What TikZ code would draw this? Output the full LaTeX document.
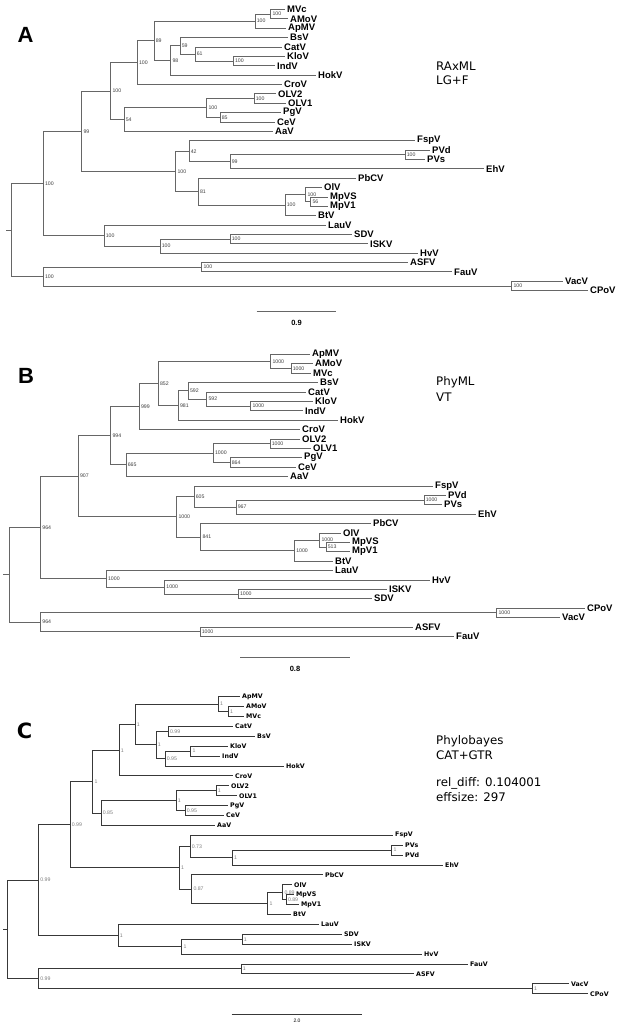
\documentclass[tikz,border=0pt]{standalone}
\usepackage{fontspec}
\newfontfamily\lsans{Liberation Sans}
\newfontfamily\dvs{DejaVu Sans}
\usetikzlibrary{calc}
\definecolor{brAB}{gray}{0.40}
\definecolor{brCC}{gray}{0.22}
\definecolor{supAB}{gray}{0.25}
\definecolor{supCC}{gray}{0.50}
\tikzset{
  brA/.style={draw=brAB, line width=0.8pt},
  brC/.style={draw=brCC, line width=1pt},
  supA/.style={anchor=west, xshift=1.2pt, inner sep=0.4pt, text=supAB, font=\lsans\fontsize{5.2}{5.2}\selectfont},
  supC/.style={anchor=west, xshift=1.2pt, inner sep=0.4pt, text=supCC, font=\lsans\fontsize{5.2}{5.2}\selectfont},
  lfA/.style={anchor=west, xshift=2pt, inner sep=0pt, font=\lsans\bfseries\fontsize{9.5}{9.5}\selectfont},
  lfC/.style={anchor=west, xshift=2pt, inner sep=0pt, font=\dvs\bfseries\fontsize{6.3}{6.3}\selectfont},
  panel/.style={inner sep=0pt, font=\lsans\bfseries\fontsize{22}{22}\selectfont},
  panelC/.style={inner sep=0pt, font=\dvs\bfseries\fontsize{21}{21}\selectfont},
  side/.style={anchor=west, inner sep=0pt, font=\dvs\fontsize{11.8}{12}\selectfont},
  sbA/.style={inner sep=0pt, font=\lsans\bfseries\fontsize{7.5}{7.5}\selectfont},
  sbC/.style={inner sep=0pt, font=\lsans\fontsize{5}{5}\selectfont},
}
\newcommand\inode[5]{%
  \path let \p1=($(#3)!0.5!(#4)$) in (#2pt,\y1) coordinate (#1);
  \draw[br] (#1) |- (#3);
  \draw[br] (#1) |- (#4);
  \node[sup] (S#1) at (#1) {#5};}
\newcommand\rnode[4]{%
  \path let \p1=($(#3)!0.5!(#4)$) in (#2pt,\y1) coordinate (#1);
  \draw[br] (#1) |- (#3);
  \draw[br] (#1) |- (#4);}
\begin{document}
\begin{tikzpicture}[x=1pt,y=-1pt]
\useasboundingbox (0,0) rectangle (617,1027);
\fill[white] (0,0) rectangle (617,1027);

% ================= A =================
\begin{scope}[br/.style={brA}, sup/.style={supA}, lf/.style={lfA}]
\foreach \n/\x/\i in {MVc/285/0, AMoV/288/1, ApMV/286/2, BsV/288/3, CatV/282/4, KloV/285/5, IndV/275/6, HokV/316/7, CroV/282/8, OLV2/276/9, OLV1/286/10, PgV/281/11, CeV/275/12, AaV/273/13, FspV/415/14, PVd/430/15, PVs/425/16, EhV/484/17, PbCV/356/18, OlV/322/19, MpVS/328/20, MpV1/328/21, BtV/316/22, LauV/326/23, SDV/352/24, ISKV/368/25, HvV/418/26, ASFV/408/27, FauV/452/28, VacV/563/29, CPoV/588/30}
{\coordinate (a\n) at (\x,{9.5+9.37*\i}); \node[lf] (Ta\n) at (a\n) {\n};}
\inode{aMA}{270.7}{aMVc}{aAMoV}{100}
\inode{aMB}{255}{aMA}{aApMV}{100}
\inode{aKI}{233.3}{aKloV}{aIndV}{100}
\inode{aSixtyOne}{195}{aCatV}{aKI}{61}
\inode{aFiftyNine}{180}{aBsV}{aSixtyOne}{59}
\inode{aNinetyEight}{170.7}{aFiftyNine}{aHokV}{98}
\inode{aEightyNine}{154}{aMB}{aNinetyEight}{89}
\inode{aCH}{137.3}{aEightyNine}{aCroV}{100}
\inode{aOL}{254}{aOLV2}{aOLV1}{100}
\inode{aPC}{220}{aPgV}{aCeV}{85}
\inode{aOP}{206.7}{aOL}{aPC}{100}
\inode{aFiftyFour}{124}{aOP}{aAaV}{54}
\inode{aUH}{110.7}{aCH}{aFiftyFour}{100}
\inode{aPV}{405}{aPVd}{aPVs}{100}
\inode{aNinetyNine}{230}{aPV}{aEhV}{99}
\inode{aFortyTwo}{189}{aFspV}{aNinetyNine}{42}
\inode{aMS}{310.7}{aMpVS}{aMpV1}{56}
\inode{aOM}{305.7}{aOlV}{aMS}{100}
\inode{aOB}{285}{aOM}{aBtV}{100}
\inode{aEightyOne}{198.3}{aPbCV}{aOB}{81}
\inode{aFH}{175.7}{aFortyTwo}{aEightyOne}{100}
\inode{aNN}{81.7}{aUH}{aFH}{99}
\inode{aSI}{230}{aSDV}{aISKV}{100}
\inode{aSH}{160}{aSI}{aHvV}{100}
\inode{aL}{104}{aLauV}{aSH}{100}
\inode{aRone}{43.3}{aNN}{aL}{100}
\inode{aAF}{201.7}{aASFV}{aFauV}{100}
\inode{aVC}{511.7}{aVacV}{aCPoV}{100}
\inode{aRtwo}{43.3}{aAF}{aVC}{100}
\rnode{aRoot}{11.7}{aRone}{aRtwo}
\coordinate (aStub) at ($(aRoot)+(-5.7,0)$);
\draw[br] (aRoot) -- (aStub);
\coordinate (aSbL) at (256.7,311);
\coordinate (aSbR) at (336,311);
\draw[br] (aSbL) -- (aSbR);
\node[sbA] (aSbT) at (296.5,322.5) {0.9};
\node[panel] (LA) at (25.5,35) {A};
\node[side] (aTx1) at (436,66) {RAxML};
\node[side] (aTx2) at (436,80.5) {LG+F};
\end{scope}

% ================= B =================
\begin{scope}[br/.style={brA}, sup/.style={supA}, lf/.style={lfA}]
\foreach \n/\x/\i in {ApMV/310/0, AMoV/313/1, MVc/311/2, BsV/318/3, CatV/306/4, KloV/313/5, IndV/303/6, HokV/338/7, CroV/300/8, OLV2/300/9, OLV1/311/10, PgV/302/11, CeV/296/12, AaV/288/13, FspV/433/14, PVd/446/15, PVs/442/16, EhV/476/17, PbCV/371/18, OlV/341/19, MpVS/350/20, MpV1/350/21, BtV/333/22, LauV/333/23, HvV/430/24, ISKV/387/25, SDV/372/26, CPoV/585/27, VacV/560/28, ASFV/413/29, FauV/454/30}
{\coordinate (b\n) at (\x,{354.3+9.4*\i}); \node[lf] (Tb\n) at (b\n) {\n};}
\inode{bAM}{291}{bAMoV}{bMVc}{1000}
\inode{bAp}{270.7}{bApMV}{bAM}{1000}
\inode{bKI}{250.7}{bKloV}{bIndV}{1000}
\inode{bFNTb}{206.7}{bCatV}{bKI}{592}
\inode{bFNT}{188.3}{bBsV}{bFNTb}{592}
\inode{bNEO}{178.3}{bFNT}{bHokV}{981}
\inode{bEFT}{158.3}{bAp}{bNEO}{852}
\inode{bNNN}{139.3}{bEFT}{bCroV}{999}
\inode{bOL}{270}{bOLV2}{bOLV1}{1000}
\inode{bPC}{230}{bPgV}{bCeV}{864}
\inode{bOP}{213.3}{bOL}{bPC}{1000}
\inode{bSSF}{126}{bOP}{bAaV}{665}
\inode{bNNF}{110.7}{bNNN}{bSSF}{994}
\inode{bPV}{424}{bPVd}{bPVs}{1000}
\inode{bNSS}{236}{bPV}{bEhV}{967}
\inode{bSZF}{194}{bFspV}{bNSS}{605}
\inode{bMS}{326}{bMpVS}{bMpV1}{513}
\inode{bOM}{319.7}{bOlV}{bMS}{1000}
\inode{bOB}{294.5}{bOM}{bBtV}{1000}
\inode{bEFO}{200.8}{bPbCV}{bOB}{841}
\inode{bF}{176.7}{bSZF}{bEFO}{1000}
\inode{bNZS}{78.3}{bNNF}{bF}{907}
\inode{bIS}{238.2}{bISKV}{bSDV}{1000}
\inode{bHI}{164.6}{bHvV}{bIS}{1000}
\inode{bL}{106.3}{bLauV}{bHI}{1000}
\inode{bRone}{40.6}{bNZS}{bL}{964}
\inode{bCV}{496.8}{bCPoV}{bVacV}{1000}
\inode{bAF}{200}{bASFV}{bFauV}{1000}
\inode{bRtwo}{40.6}{bCV}{bAF}{964}
\rnode{bRoot}{9.8}{bRone}{bRtwo}
\coordinate (bStub) at ($(bRoot)+(-6.5,0)$);
\draw[br] (bRoot) -- (bStub);
\coordinate (bSbL) at (240,657);
\coordinate (bSbR) at (349.6,657);
\draw[br] (bSbL) -- (bSbR);
\node[sbA] (bSbT) at (295,669) {0.8};
\node[panel] (LB) at (26,376) {B};
\node[side] (bTx1) at (436,382.5) {PhyML};
\node[side] (bTx2) at (436,397) {VT};
\end{scope}

% ================= C =================
\begin{scope}[br/.style={brC}, sup/.style={supC}, lf/.style={lfC}]
\foreach \n/\x/\i in {ApMV/240/0, AMoV/244/1, MVc/244/2, CatV/233/3, BsV/255/4, KloV/228/5, IndV/220/6, HokV/284/7, CroV/233/8, OLV2/229/9, OLV1/237/10, PgV/228/11, CeV/224/12, AaV/215/13, FspV/393/14, PVs/403/15, PVd/403/16, EhV/443/17, PbCV/323/18, OlV/292/19, MpVS/294/20, MpV1/299/21, BtV/291/22, LauV/319/23, SDV/342/24, ISKV/352/25, HvV/422/26, FauV/468/27, ASFV/414/28, VacV/569/29, CPoV/588/30}
{\coordinate (c\n) at (\x,{696.7+9.9*\i}); \node[lf] (Tc\n) at (c\n) {\n};}
\inode{cAM}{228.3}{cAMoV}{cMVc}{1}
\inode{cAp}{218.3}{cApMV}{cAM}{1}
\inode{cCB}{168.3}{cCatV}{cBsV}{0.99}
\inode{cKI}{190.7}{cKloV}{cIndV}{1}
\inode{cNFa}{165}{cKI}{cHokV}{0.95}
\inode{cOb}{156}{cCB}{cNFa}{1}
\inode{cOa}{135}{cAp}{cOb}{1}
\inode{cOc}{119}{cOa}{cCroV}{1}
\inode{cOL}{216}{cOLV2}{cOLV1}{1}
\inode{cPC}{185}{cPgV}{cCeV}{0.95}
\inode{cOd}{176}{cOL}{cPC}{1}
\inode{cEF}{101}{cOd}{cAaV}{0.85}
\inode{cOe}{92.7}{cOc}{cEF}{1}
\inode{cPV}{391.7}{cPVs}{cPVd}{1}
\inode{cOf}{232.3}{cPV}{cEhV}{1}
\inode{cST}{190}{cFspV}{cOf}{0.73}
\inode{cMS}{286.2}{cMpVS}{cMpV1}{0.89}
\inode{cOM}{282.7}{cOlV}{cMS}{0.89}
\inode{cOg}{267.7}{cOM}{cBtV}{1}
\inode{cEE}{191.7}{cPbCV}{cOg}{0.87}
\inode{cF}{179.3}{cST}{cEE}{1}
\inode{cNNa}{70}{cOe}{cF}{0.99}
\inode{cSI}{242.1}{cSDV}{cISKV}{1}
\inode{cOh}{181.9}{cSI}{cHvV}{1}
\inode{cL}{118}{cLauV}{cOh}{1}
\inode{cRone}{38.6}{cNNa}{cL}{0.99}
\inode{cFA}{241}{cFauV}{cASFV}{1}
\inode{cVC}{532.3}{cVacV}{cCPoV}{1}
\inode{cRtwo}{38.6}{cFA}{cVC}{0.99}
\rnode{cRoot}{7.9}{cRone}{cRtwo}
\coordinate (cStub) at ($(cRoot)+(-5,0)$);
\draw[br] (cRoot) -- (cStub);
\coordinate (cSbL) at (231.5,1014);
\coordinate (cSbR) at (362,1014);
\draw[br] (cSbL) -- (cSbR);
\node[sbC] (cSbT) at (297,1021) {2.0};
\node[panelC] (LC) at (24.5,731) {C};
\node[side] (cTx1) at (436,741) {Phylobayes};
\node[side] (cTx2) at (436,755.5) {CAT+GTR};
\node[side] (cTx3) at (436,783) {rel\_diff: 0.104001};
\node[side] (cTx4) at (436,797) {effsize: 297};
\end{scope}
\end{tikzpicture}
\end{document}
